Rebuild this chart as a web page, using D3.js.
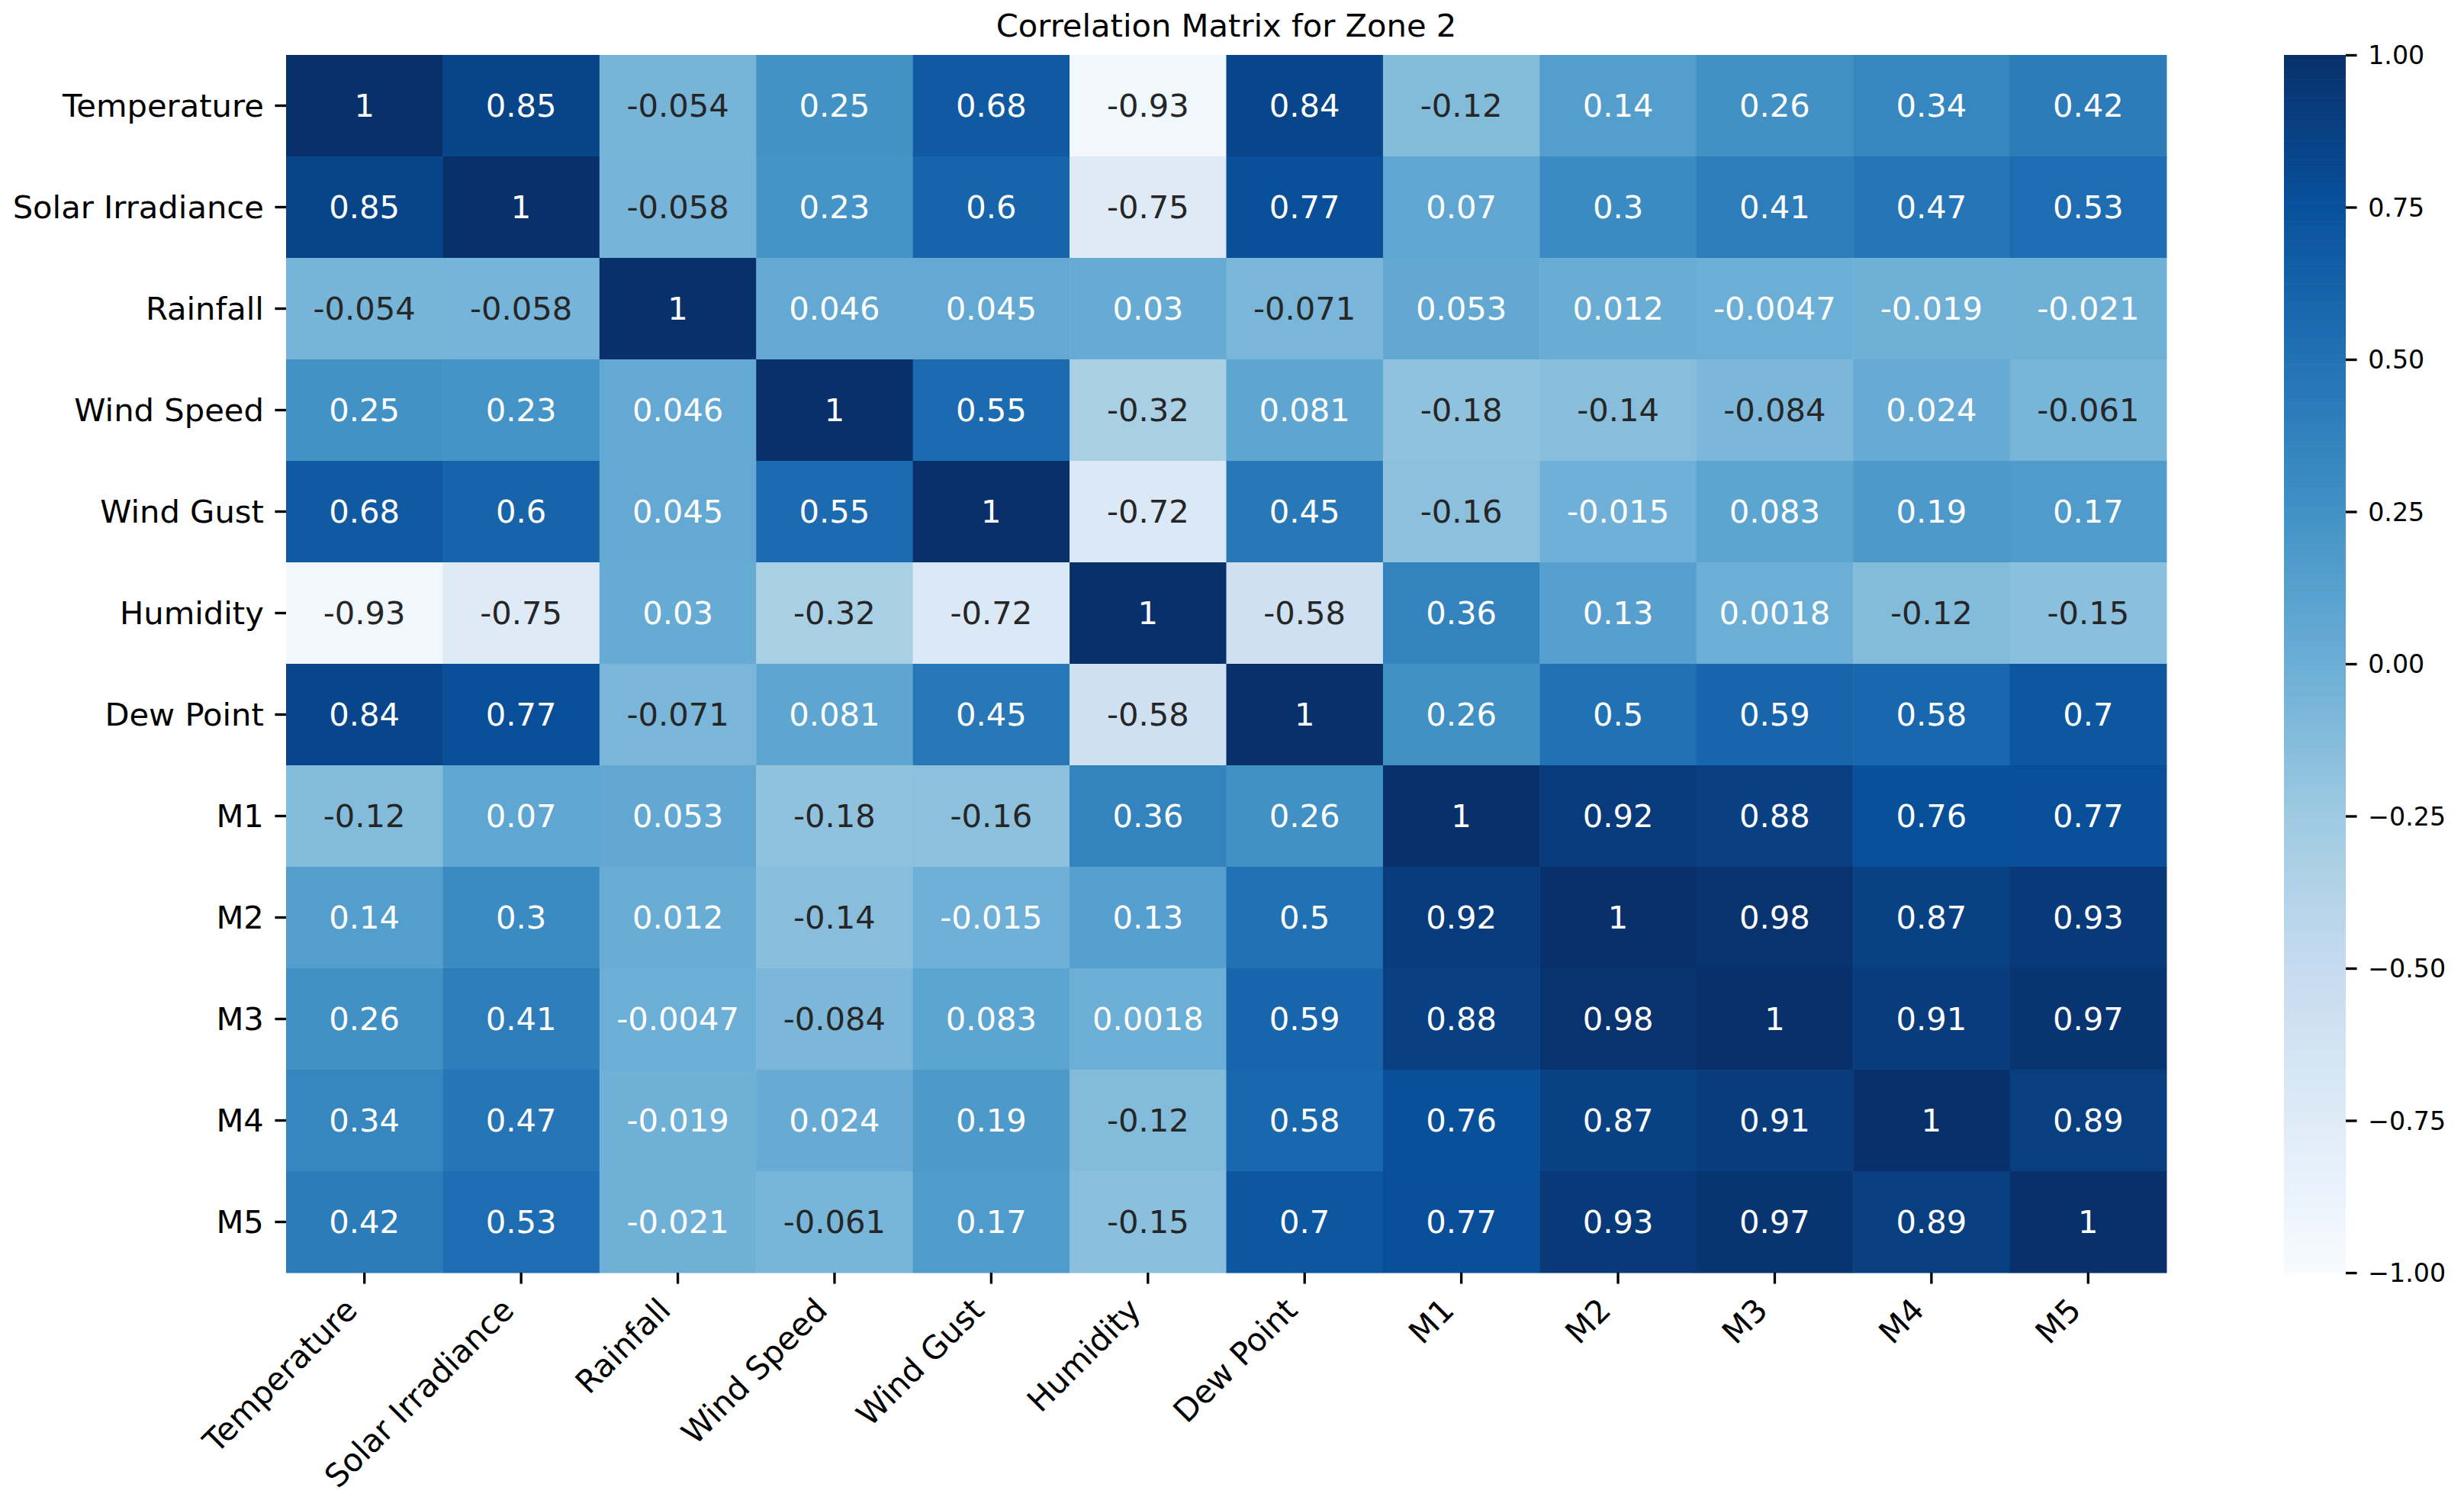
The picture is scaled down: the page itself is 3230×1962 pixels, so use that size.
<!DOCTYPE html>
<html>
<head>
<meta charset="utf-8">
<script src="https://cdn.jsdelivr.net/npm/d3@7"></script>
<style>
  html, body { margin: 0; padding: 0; background: #fff; }
  svg { display: block; }
  text { font-family: "DejaVu Sans", sans-serif; }
</style>
</head>
<body>
<svg id="chart" width="3230" height="1962"></svg>
<script>
const variables = ["Temperature", "Solar Irradiance", "Rainfall", "Wind Speed", "Wind Gust",
  "Humidity", "Dew Point", "M1", "M2", "M3", "M4", "M5"];

const rowTemperature = [1, 0.85, -0.054, 0.25, 0.68, -0.93, 0.84, -0.12, 0.14, 0.26, 0.34, 0.42];
const rowSolar       = [0.85, 1, -0.058, 0.23, 0.6, -0.75, 0.77, 0.07, 0.3, 0.41, 0.47, 0.53];
const rowRainfall    = [-0.054, -0.058, 1, 0.046, 0.045, 0.03, -0.071, 0.053, 0.012, -0.0047, -0.019, -0.021];
const rowWindSpeed   = [0.25, 0.23, 0.046, 1, 0.55, -0.32, 0.081, -0.18, -0.14, -0.084, 0.024, -0.061];
const rowWindGust    = [0.68, 0.6, 0.045, 0.55, 1, -0.72, 0.45, -0.16, -0.015, 0.083, 0.19, 0.17];
const rowHumidity    = [-0.93, -0.75, 0.03, -0.32, -0.72, 1, -0.58, 0.36, 0.13, 0.0018, -0.12, -0.15];
const rowDewPoint    = [0.84, 0.77, -0.071, 0.081, 0.45, -0.58, 1, 0.26, 0.5, 0.59, 0.58, 0.7];
const rowM1          = [-0.12, 0.07, 0.053, -0.18, -0.16, 0.36, 0.26, 1, 0.92, 0.88, 0.76, 0.77];
const rowM2          = [0.14, 0.3, 0.012, -0.14, -0.015, 0.13, 0.5, 0.92, 1, 0.98, 0.87, 0.93];
const rowM3          = [0.26, 0.41, -0.0047, -0.084, 0.083, 0.0018, 0.59, 0.88, 0.98, 1, 0.91, 0.97];
const rowM4          = [0.34, 0.47, -0.019, 0.024, 0.19, -0.12, 0.58, 0.76, 0.87, 0.91, 1, 0.89];
const rowM5          = [0.42, 0.53, -0.021, -0.061, 0.17, -0.15, 0.7, 0.77, 0.93, 0.97, 0.89, 1];

const colorbarTicks = [-1, -0.75, -0.5, -0.25, 0, 0.25, 0.5, 0.75, 1];
const titleText = "Correlation Matrix for Zone 2";

const matrix = [rowTemperature, rowSolar, rowRainfall, rowWindSpeed, rowWindGust, rowHumidity,
  rowDewPoint, rowM1, rowM2, rowM3, rowM4, rowM5];

// matplotlib "Blues" stops
const bluesStops = ["#f7fbff", "#deebf7", "#c6dbef", "#9ecae1", "#6baed6", "#4292c6", "#2171b5", "#08519c", "#08306b"];

const FS = 41.67;   // tick labels, annotations, title
const CB_FS = 33.3; // colorbar tick labels
const svg = d3.select("#chart");
const pLeft = 375, pRight = 2840, pTop = 72, pBottom = 1668;

const x = d3.scaleBand().domain(variables).range([pLeft, pRight]).paddingInner(0).paddingOuter(0);
const y = d3.scaleBand().domain(variables).range([pTop, pBottom]).paddingInner(0).paddingOuter(0);

const color = d3.scaleLinear()
  .domain(d3.range(bluesStops.length).map(i => -1 + 2 * i / (bluesStops.length - 1)))
  .range(bluesStops)
  .interpolate(d3.interpolateRgb)
  .clamp(true);

function relLum(c) {
  const rgb = d3.rgb(c);
  const f = v => { v /= 255; return v <= 0.03928 ? v / 12.92 : Math.pow((v + 0.055) / 1.055, 2.4); };
  return 0.2126 * f(rgb.r) + 0.7152 * f(rgb.g) + 0.0722 * f(rgb.b);
}

const loc = d3.formatLocale({decimal: ".", thousands: ",", grouping: [3], currency: ["", ""], minus: "-"});
const fmt = loc.format(".2~g");

const cells = [];
matrix.forEach((row, i) => row.forEach((v, j) => cells.push({r: variables[i], c: variables[j], v})));

const g = svg.append("g");
g.selectAll("rect.cell").data(cells).join("rect")
  .attr("class", "cell")
  .attr("x", d => x(d.c))
  .attr("y", d => y(d.r))
  .attr("width", x.bandwidth() + 0.5)
  .attr("height", y.bandwidth() + 0.5)
  .attr("fill", d => color(d.v));

g.selectAll("text.ann").data(cells).join("text")
  .attr("class", "ann")
  .attr("x", d => x(d.c) + x.bandwidth() / 2)
  .attr("y", d => y(d.r) + y.bandwidth() / 2)
  .attr("text-anchor", "middle")
  .attr("dominant-baseline", "central")
  .attr("font-size", FS)
  .attr("fill", d => relLum(color(d.v)) > 0.408 ? "#262626" : "#ffffff")
  .text(d => fmt(d.v));

const TICK = 14.58, PAD = 14.58, TW = 3.33;

// y axis
const yAxis = d3.axisLeft(y).tickSize(TICK).tickPadding(PAD);
const yg = svg.append("g").attr("transform", `translate(${pLeft},0)`).call(yAxis);
yg.select(".domain").remove();
yg.selectAll(".tick line").attr("stroke", "#000").attr("stroke-width", TW);
yg.selectAll(".tick text").attr("font-size", FS).attr("fill", "#000")
  .attr("font-family", "DejaVu Sans").attr("dy", null).attr("dominant-baseline", "central");

// x axis
const xAxis = d3.axisBottom(x).tickSize(TICK).tickPadding(PAD);
const xg = svg.append("g").attr("transform", `translate(0,${pBottom})`).call(xAxis);
xg.select(".domain").remove();
xg.selectAll(".tick line").attr("stroke", "#000").attr("stroke-width", TW);
const c45 = Math.SQRT1_2;
const asc = 0.76 * FS, desc = 0.24 * FS;
xg.selectAll(".tick text")
  .attr("font-size", FS).attr("fill", "#000").attr("font-family", "DejaVu Sans")
  .attr("text-anchor", "end").attr("dy", null).attr("y", null)
  .attr("transform", `translate(${-desc * c45},${TICK + PAD + asc * c45}) rotate(-45)`);

// title
svg.append("text")
  .attr("x", (pLeft + pRight) / 2)
  .attr("y", pTop - 24)
  .attr("text-anchor", "middle")
  .attr("font-size", FS)
  .attr("fill", "#000")
  .text(titleText);

// colorbar
const cbLeft = 2994, cbRight = 3075;
const cy = d3.scaleLinear().domain([-1, 1]).range([pBottom, pTop]);
const nSteps = 256;
const steps = d3.range(nSteps).map(i => -1 + 2 * (i + 0.5) / nSteps);
svg.append("g").selectAll("rect").data(steps).join("rect")
  .attr("x", cbLeft)
  .attr("width", cbRight - cbLeft)
  .attr("y", d => cy(d + 1 / nSteps))
  .attr("height", (pBottom - pTop) / nSteps + 0.6)
  .attr("fill", d => color(d));

const cbAxis = d3.axisRight(cy).tickValues(colorbarTicks).tickSize(TICK).tickPadding(PAD)
  .tickFormat(d3.format(".2f"));
const cg = svg.append("g").attr("transform", `translate(${cbRight},0)`).call(cbAxis);
cg.select(".domain").remove();
cg.selectAll(".tick line").attr("stroke", "#000").attr("stroke-width", TW);
cg.selectAll(".tick text").attr("font-size", CB_FS).attr("fill", "#000")
  .attr("font-family", "DejaVu Sans").attr("dy", null).attr("dominant-baseline", "central");
</script>
</body>
</html>
